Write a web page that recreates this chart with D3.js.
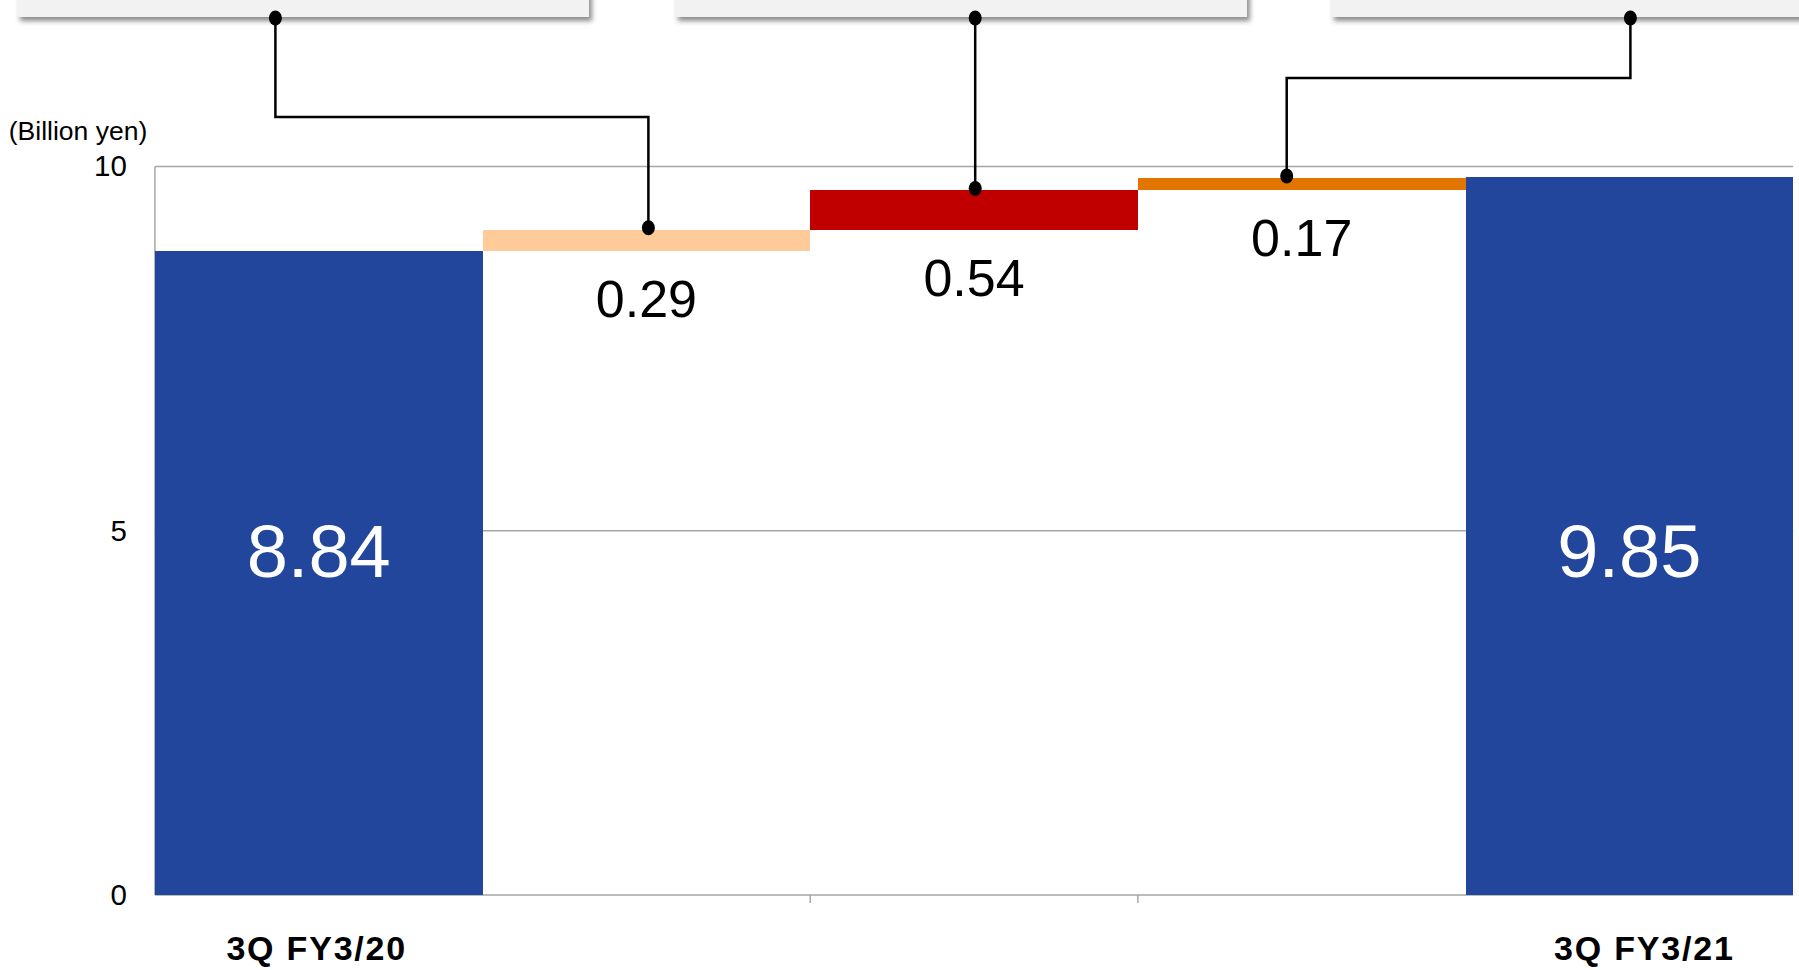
<!DOCTYPE html>
<html>
<head>
<meta charset="utf-8">
<script src="https://cdn.jsdelivr.net/npm/d3@7"></script>
<style>
  html, body { margin: 0; padding: 0; background: #ffffff; }
  svg { display: block; }
  text { font-family: "Liberation Sans", Arial, sans-serif; }
</style>
</head>
<body>
<svg id="chart" width="1799" height="970"></svg>
<script>
// Waterfall: operating profit bridge between 3Q FY3/20 and 3Q FY3/21
const stepKeys   = ["start", "d1", "d2", "d3", "end"];
const stepLabels = ["3Q FY3/20", "", "", "", "3Q FY3/21"];
const stepKinds  = ["total", "delta", "delta", "delta", "total"];
const stepValues = [8.84, 0.29, 0.54, 0.17, 9.85];
const stepColors = ["#21469b", "#ffcc99", "#c00000", "#e17500", "#21469b"];
const yTickValues = [0, 5, 10];
const yUnitLabel = "(Billion yen)";

const svg = d3.select("#chart");
const plot = { left: 154.9, right: 1793.2, top: 166.4, bottom: 894.9 };

const x = d3.scaleBand().domain(stepKeys).range([plot.left, plot.right]).padding(0);
const y = d3.scaleLinear().domain([0, 10]).range([plot.bottom, plot.top]);

// running totals for the floating steps
let running = 0;
const steps = stepKeys.map((k, i) => {
  let lo, hi;
  if (stepKinds[i] === "total") { lo = 0; hi = stepValues[i]; running = stepValues[i]; }
  else { lo = running; hi = running + stepValues[i]; running = hi; }
  return { key: k, label: stepLabels[i], kind: stepKinds[i], value: stepValues[i], lo, hi, color: stepColors[i] };
});

// drop shadow for the callout boxes
const defs = svg.append("defs");
const f = defs.append("filter").attr("id", "boxShadow")
  .attr("x", "-5%").attr("y", "-50%").attr("width", "110%").attr("height", "200%");
f.append("feDropShadow").attr("dx", 3).attr("dy", 4).attr("stdDeviation", 2.5)
  .attr("flood-color", "#000").attr("flood-opacity", 0.45);

// callout boxes along the top edge (their text sits above the visible area)
const boxes = [
  { x0: 17,   x1: 589,  anchorX: 275.4 },
  { x0: 675,  x1: 1247, anchorX: 975.2 },
  { x0: 1331, x1: 1830, anchorX: 1630.4 }
];
const boxBottom = 17;
svg.append("g").selectAll("rect").data(boxes).join("rect")
  .attr("x", d => d.x0).attr("y", -80)
  .attr("width", d => d.x1 - d.x0).attr("height", 80 + boxBottom)
  .attr("fill", "#f2f2f2").attr("filter", "url(#boxShadow)");

// gridlines
const grid = svg.append("g");
grid.selectAll("line").data(yTickValues).join("line")
  .attr("x1", plot.left).attr("x2", plot.right)
  .attr("y1", d => y(d)).attr("y2", d => y(d))
  .attr("stroke", "#a6a6a6").attr("stroke-width", 1.5);
grid.append("line")
  .attr("x1", plot.left).attr("x2", plot.left)
  .attr("y1", y(10)).attr("y2", y(0))
  .attr("stroke", "#a6a6a6").attr("stroke-width", 1.5);
// small category ticks between the middle steps
grid.selectAll("line.tick").data(["d2", "d3"]).join("line").attr("class", "tick")
  .attr("x1", d => x(d)).attr("x2", d => x(d))
  .attr("y1", y(0)).attr("y2", y(0) + 8)
  .attr("stroke", "#a6a6a6").attr("stroke-width", 1.5);

// bars
svg.append("g").selectAll("rect").data(steps).join("rect")
  .attr("x", d => x(d.key)).attr("width", x.bandwidth())
  .attr("y", d => y(d.hi)).attr("height", d => y(d.lo) - y(d.hi))
  .attr("fill", d => d.color)
  .attr("shape-rendering", "crispEdges");

// y axis labels
const yAxis = d3.axisLeft(y).tickValues(yTickValues).tickSize(0).tickPadding(28).tickFormat(d3.format("d"));
const gy = svg.append("g").attr("transform", `translate(${plot.left},0)`).call(yAxis);
gy.select(".domain").remove();
gy.selectAll("text").attr("font-size", 29.5).attr("fill", "#000")
  .attr("font-family", "'Liberation Sans', Arial, sans-serif");

svg.append("text").attr("x", 78).attr("y", 140).attr("text-anchor", "middle")
  .attr("font-size", 26.5).attr("fill", "#000").text(yUnitLabel);

// value labels
svg.append("g").selectAll("text").data(steps).join("text")
  .attr("x", d => x(d.key) + x.bandwidth() / 2)
  .attr("y", d => d.kind === "total" ? 577 : y(d.lo) + 66)
  .attr("text-anchor", "middle")
  .attr("font-size", d => d.kind === "total" ? 74 : 52)
  .attr("fill", d => d.kind === "total" ? "#ffffff" : "#000000")
  .text(d => d3.format(".2f")(d.value));

// category labels
const catShift = { start: -2, end: 15 };
svg.append("g").selectAll("text").data(steps.filter(d => d.label)).join("text")
  .attr("x", d => x(d.key) + x.bandwidth() / 2 + (catShift[d.key] || 0))
  .attr("y", 960)
  .attr("text-anchor", "middle")
  .attr("font-family", "'Noto Sans CJK JP', 'Noto Sans', sans-serif")
  .attr("font-weight", "bold").attr("font-size", 34).attr("letter-spacing", 1.8)
  .attr("fill", "#000").text(d => d.label);

// connectors from the callout boxes down to the step bars
const byKey = Object.fromEntries(steps.map(d => [d.key, d]));
const connectors = [
  { box: 0, target: "d1", elbowY: 117, dx: 2 },
  { box: 1, target: "d2", elbowY: null, dx: 1 },
  { box: 2, target: "d3", elbowY: 78, dx: -15 }
];
const conn = svg.append("g");
connectors.forEach(c => {
  const bx = boxes[c.box].anchorX, by = boxBottom + 1;
  const t = byKey[c.target];
  const tx = x(t.key) + x.bandwidth() / 2 + c.dx;
  const ty = y(t.hi) - 2;
  const pts = c.elbowY === null
    ? [[bx, by], [bx, ty]]
    : [[bx, by], [bx, c.elbowY], [tx, c.elbowY], [tx, ty]];
  const end = c.elbowY === null ? [bx, ty] : [tx, ty];
  conn.append("path").attr("d", d3.line()(pts))
    .attr("fill", "none").attr("stroke", "#000").attr("stroke-width", 2.5);
  [[bx, by], end].forEach(p => conn.append("ellipse")
    .attr("cx", p[0]).attr("cy", p[1]).attr("rx", 6.5).attr("ry", 7.5).attr("fill", "#000"));
});
</script>
</body>
</html>
